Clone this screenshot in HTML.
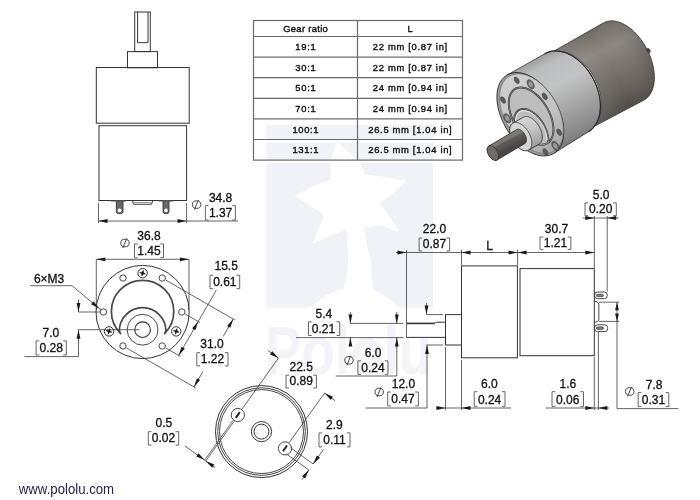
<!DOCTYPE html>
<html><head><meta charset="utf-8"><style>
html,body{margin:0;padding:0;background:#fff;}
body{width:700px;height:500px;overflow:hidden;}
svg{display:block;font-family:"Liberation Sans",sans-serif;will-change:transform;}
.tb{font-family:"Liberation Sans",sans-serif;}
</style></head><body>
<svg width="700" height="500" viewBox="0 0 700 500">
<defs><linearGradient id="gMot" gradientUnits="userSpaceOnUse" x1="584" y1="28" x2="624" y2="108">
<stop offset="0" stop-color="#635e59"/><stop offset="0.1" stop-color="#75706a"/><stop offset="0.32" stop-color="#8b8680"/>
<stop offset="0.55" stop-color="#7a746e"/><stop offset="0.85" stop-color="#625d58"/><stop offset="1" stop-color="#514d49"/></linearGradient>
<linearGradient id="gMotAx" gradientUnits="userSpaceOnUse" x1="575" y1="90" x2="650" y2="50">
<stop offset="0" stop-color="#fff" stop-opacity="0.10"/><stop offset="0.5" stop-color="#fff" stop-opacity="0"/><stop offset="1" stop-color="#000" stop-opacity="0.12"/></linearGradient>
<linearGradient id="gGear" gradientUnits="userSpaceOnUse" x1="532" y1="60" x2="575" y2="145">
<stop offset="0" stop-color="#9e9e9e"/><stop offset="0.12" stop-color="#bcbdbe"/><stop offset="0.35" stop-color="#c2c3c4"/>
<stop offset="0.6" stop-color="#a8a8a8"/><stop offset="0.85" stop-color="#8c8c8c"/><stop offset="1" stop-color="#747474"/></linearGradient>
<linearGradient id="gFace" gradientUnits="userSpaceOnUse" x1="505" y1="80" x2="555" y2="150">
<stop offset="0" stop-color="#cfcfcf"/><stop offset="0.6" stop-color="#c3c3c3"/><stop offset="1" stop-color="#a9a9a9"/></linearGradient>
<linearGradient id="gCol" gradientUnits="userSpaceOnUse" x1="520" y1="112" x2="532" y2="148">
<stop offset="0" stop-color="#dcdcdc"/><stop offset="0.5" stop-color="#c8c8c8"/><stop offset="1" stop-color="#9a9a9a"/></linearGradient>
<linearGradient id="gShaft" gradientUnits="userSpaceOnUse" x1="501" y1="136" x2="508.5" y2="150.5">
<stop offset="0" stop-color="#6a6662"/><stop offset="0.1" stop-color="#827d79"/><stop offset="0.4" stop-color="#78736f"/><stop offset="0.45" stop-color="#5f5b57"/><stop offset="1" stop-color="#484441"/></linearGradient></defs>
<rect width="700" height="500" fill="#fff"/>
<rect x="266.2" y="125" width="166.8" height="181" fill="#f1f2f7"/>
<rect x="266.2" y="306" width="166.8" height="2.5" fill="#f6f6fa"/>
<polygon points="337,143 359,162 365,175 405,181 391,194 379,203 398,231 381,224 363,227 366,245 370,260 371,279 372,290 382,295 393,302.5 398,308.5 311,308.5 315.5,304.5 325,297 335,292 344,289.5 347,278.5 349,260 348,240 347,228 314,242 325,214 296,196 315,186 332,180 331,162" fill="#fff" stroke="#fff" stroke-width="1.5" stroke-linejoin="round"/>
<text x="265" y="374" font-size="68" font-weight="bold" fill="#f3f3f8" textLength="167" lengthAdjust="spacingAndGlyphs">Pololu</text>
<rect x="253.5" y="139.5" width="209.0" height="3" fill="#fff"/>
<rect x="253.5" y="160" width="209.0" height="3" fill="#fff"/>
<rect x="253.5" y="20.5" width="209.0" height="139.6" fill="none" stroke="#6a6a6a" stroke-width="1.2"/>
<line x1="253.50" y1="36.50" x2="462.50" y2="36.50" stroke="#6a6a6a" stroke-width="1.2"/>
<line x1="253.50" y1="57.10" x2="462.50" y2="57.10" stroke="#6a6a6a" stroke-width="1.2"/>
<line x1="253.50" y1="77.70" x2="462.50" y2="77.70" stroke="#6a6a6a" stroke-width="1.2"/>
<line x1="253.50" y1="98.30" x2="462.50" y2="98.30" stroke="#6a6a6a" stroke-width="1.2"/>
<line x1="253.50" y1="118.90" x2="462.50" y2="118.90" stroke="#6a6a6a" stroke-width="1.2"/>
<line x1="253.50" y1="139.50" x2="462.50" y2="139.50" stroke="#6a6a6a" stroke-width="1.2"/>
<line x1="357.50" y1="20.50" x2="357.50" y2="160.10" stroke="#6a6a6a" stroke-width="1.2"/>
<text x="305.50" y="31.80" font-size="9.4" text-anchor="middle" fill="#111" stroke="#111" stroke-width="0.38" textLength="44.59" lengthAdjust="spacing">Gear ratio</text>
<text x="410.00" y="31.80" font-size="9.4" text-anchor="middle" fill="#111" stroke="#111" stroke-width="0.38" textLength="4.11" lengthAdjust="spacing">L</text>
<text x="305.50" y="50.10" font-size="9.4" text-anchor="middle" fill="#111" stroke="#111" stroke-width="0.38" textLength="20.36" lengthAdjust="spacing">19:1</text>
<text x="410.00" y="50.10" font-size="9.4" text-anchor="middle" fill="#111" stroke="#111" stroke-width="0.38" textLength="74.35" lengthAdjust="spacing">22 mm [0.87 in]</text>
<text x="305.50" y="70.70" font-size="9.4" text-anchor="middle" fill="#111" stroke="#111" stroke-width="0.38" textLength="20.36" lengthAdjust="spacing">30:1</text>
<text x="410.00" y="70.70" font-size="9.4" text-anchor="middle" fill="#111" stroke="#111" stroke-width="0.38" textLength="74.35" lengthAdjust="spacing">22 mm [0.87 in]</text>
<text x="305.50" y="91.30" font-size="9.4" text-anchor="middle" fill="#111" stroke="#111" stroke-width="0.38" textLength="20.36" lengthAdjust="spacing">50:1</text>
<text x="410.00" y="91.30" font-size="9.4" text-anchor="middle" fill="#111" stroke="#111" stroke-width="0.38" textLength="74.35" lengthAdjust="spacing">24 mm [0.94 in]</text>
<text x="305.50" y="111.90" font-size="9.4" text-anchor="middle" fill="#111" stroke="#111" stroke-width="0.38" textLength="20.36" lengthAdjust="spacing">70:1</text>
<text x="410.00" y="111.90" font-size="9.4" text-anchor="middle" fill="#111" stroke="#111" stroke-width="0.38" textLength="74.35" lengthAdjust="spacing">24 mm [0.94 in]</text>
<text x="305.50" y="132.50" font-size="9.4" text-anchor="middle" fill="#111" stroke="#111" stroke-width="0.38" textLength="26.08" lengthAdjust="spacing">100:1</text>
<text x="410.00" y="132.50" font-size="9.4" text-anchor="middle" fill="#111" stroke="#111" stroke-width="0.38" textLength="83.35" lengthAdjust="spacing">26.5 mm [1.04 in]</text>
<text x="305.50" y="153.10" font-size="9.4" text-anchor="middle" fill="#111" stroke="#111" stroke-width="0.38" textLength="26.08" lengthAdjust="spacing">131:1</text>
<text x="410.00" y="153.10" font-size="9.4" text-anchor="middle" fill="#111" stroke="#111" stroke-width="0.38" textLength="83.35" lengthAdjust="spacing">26.5 mm [1.04 in]</text>
<rect x="134.70" y="12.00" width="15.60" height="39.60" fill="none" stroke="#333" stroke-width="1.0"/>
<polyline points="137.60,12.00 137.60,42.70 148.00,42.70 148.00,12.00" fill="none" stroke="#333" stroke-width="1.0" stroke-linejoin="miter"/>
<rect x="127.50" y="51.60" width="30.00" height="16.20" fill="none" stroke="#333" stroke-width="1.0"/>
<rect x="96.30" y="67.50" width="92.90" height="55.70" fill="none" stroke="#333" stroke-width="1.0"/>
<rect x="99.00" y="125.70" width="87.60" height="74.80" fill="none" stroke="#333" stroke-width="1.0"/>
<path d="M116.3,200.5 L116.3,211.5 Q116.3,213.6 118.5,213.6 L120.8,213.6 Q123,213.6 123,211.5 L123,200.5" fill="#6a6a6a" stroke="#333" stroke-width="0.9"/>
<path d="M163,200.5 L163,211.5 Q163,213.6 165,213.6 L167,213.6 Q169,213.6 169,211.5 L169,200.5" fill="#6a6a6a" stroke="#333" stroke-width="0.9"/>
<circle cx="119.60" cy="210.40" r="1.90" fill="#fff" stroke="#333" stroke-width="0"/>
<circle cx="166.00" cy="210.40" r="1.80" fill="#fff" stroke="#333" stroke-width="0"/>
<line x1="111.00" y1="201.00" x2="126.00" y2="201.00" stroke="#555" stroke-width="1.0"/>
<line x1="158.50" y1="201.00" x2="173.50" y2="201.00" stroke="#555" stroke-width="1.0"/>
<polyline points="132.30,200.50 133.50,204.30 151.60,204.30 152.80,200.50" fill="none" stroke="#333" stroke-width="0.9" stroke-linejoin="miter"/>
<line x1="133.20" y1="202.60" x2="151.90" y2="202.60" stroke="#666" stroke-width="0.7"/>
<line x1="98.50" y1="203.00" x2="98.50" y2="223.00" stroke="#3c3c3c" stroke-width="0.8"/>
<line x1="186.60" y1="203.00" x2="186.60" y2="223.00" stroke="#3c3c3c" stroke-width="0.8"/>
<line x1="98.50" y1="221.00" x2="238.00" y2="221.00" stroke="#3c3c3c" stroke-width="0.8"/>
<polygon points="98.50,221.00 107.50,219.10 107.50,222.90" fill="#1a1a1a" stroke="none"/>
<polygon points="186.60,221.00 177.60,222.90 177.60,219.10" fill="#1a1a1a" stroke="none"/>
<text x="220.60" y="201.80" font-size="12" text-anchor="middle" fill="#111" stroke="#111" stroke-width="0.3" >34.8</text>
<polyline points="208.60,205.70 205.40,205.70 205.40,220.00 208.60,220.00" fill="none" stroke="#555" stroke-width="0.9" stroke-linejoin="miter"/>
<polyline points="232.20,205.70 235.40,205.70 235.40,220.00 232.20,220.00" fill="none" stroke="#555" stroke-width="0.9" stroke-linejoin="miter"/>
<text x="220.60" y="216.60" font-size="12" text-anchor="middle" fill="#111" stroke="#111" stroke-width="0.3" >1.37</text>
<ellipse cx="196.60" cy="204.60" rx="4.2" ry="3.8" fill="none" stroke="#333" stroke-width="0.9"/>
<line x1="194.40" y1="209.60" x2="198.40" y2="200.00" stroke="#333" stroke-width="0.9"/>
<circle cx="142.60" cy="312.00" r="46.60" fill="none" stroke="#333" stroke-width="1.0"/>
<circle cx="181.80" cy="312.00" r="3.20" fill="none" stroke="#333" stroke-width="0.9"/>
<circle cx="162.20" cy="278.05" r="3.20" fill="none" stroke="#333" stroke-width="0.9"/>
<circle cx="123.00" cy="278.05" r="3.20" fill="none" stroke="#333" stroke-width="0.9"/>
<circle cx="103.40" cy="312.00" r="3.20" fill="none" stroke="#333" stroke-width="0.9"/>
<circle cx="123.00" cy="345.95" r="3.20" fill="none" stroke="#333" stroke-width="0.9"/>
<circle cx="162.20" cy="345.95" r="3.20" fill="none" stroke="#333" stroke-width="0.9"/>
<circle cx="142.60" cy="273.20" r="4.70" fill="none" stroke="#333" stroke-width="1.0"/>
<polygon points="145.50,273.98 143.15,274.15 141.82,276.10 141.65,273.75 139.70,272.42 142.05,272.25 143.38,270.30 143.55,272.65" fill="#111" stroke="#111" stroke-width="0.5" stroke-linejoin="round"/>
<circle cx="109.00" cy="331.40" r="4.70" fill="none" stroke="#333" stroke-width="1.0"/>
<polygon points="111.90,332.18 109.55,332.35 108.22,334.30 108.05,331.95 106.10,330.62 108.45,330.45 109.77,328.50 109.95,330.85" fill="#111" stroke="#111" stroke-width="0.5" stroke-linejoin="round"/>
<circle cx="176.20" cy="331.40" r="4.70" fill="none" stroke="#333" stroke-width="1.0"/>
<polygon points="179.10,332.18 176.75,332.35 175.43,334.30 175.25,331.95 173.30,330.62 175.65,330.45 176.98,328.50 177.15,330.85" fill="#111" stroke="#111" stroke-width="0.5" stroke-linejoin="round"/>
<path d="M120.6,333.6 A31.2 31.2 0 1 1 164.6,333.6 L165.9,331 A23.3 23.3 0 0 0 119.3,331 Z" fill="none" stroke="#4a4a4a" stroke-width="1.7" stroke-linejoin="round"/>
<circle cx="142.60" cy="329.70" r="15.40" fill="none" stroke="#333" stroke-width="0.9"/>
<circle cx="142.60" cy="329.70" r="7.80" fill="none" stroke="#333" stroke-width="1.1"/>
<line x1="96.30" y1="259.30" x2="96.30" y2="310.00" stroke="#3c3c3c" stroke-width="0.8"/>
<line x1="189.00" y1="259.30" x2="189.00" y2="310.00" stroke="#3c3c3c" stroke-width="0.8"/>
<line x1="96.30" y1="259.30" x2="189.00" y2="259.30" stroke="#3c3c3c" stroke-width="0.8"/>
<polygon points="96.30,259.30 105.30,257.40 105.30,261.20" fill="#1a1a1a" stroke="none"/>
<polygon points="189.00,259.30 180.00,261.20 180.00,257.40" fill="#1a1a1a" stroke="none"/>
<text x="149.00" y="239.70" font-size="12" text-anchor="middle" fill="#111" stroke="#111" stroke-width="0.3" >36.8</text>
<polyline points="137.70,243.90 134.50,243.90 134.50,257.70 137.70,257.70" fill="none" stroke="#555" stroke-width="0.9" stroke-linejoin="miter"/>
<polyline points="160.30,243.90 163.50,243.90 163.50,257.70 160.30,257.70" fill="none" stroke="#555" stroke-width="0.9" stroke-linejoin="miter"/>
<text x="149.00" y="254.90" font-size="12" text-anchor="middle" fill="#111" stroke="#111" stroke-width="0.3" >1.45</text>
<ellipse cx="125.00" cy="243.00" rx="4.2" ry="3.8" fill="none" stroke="#333" stroke-width="0.9"/>
<line x1="122.80" y1="248.00" x2="126.80" y2="238.40" stroke="#333" stroke-width="0.9"/>
<text x="33.90" y="282.90" font-size="12" text-anchor="start" fill="#111" stroke="#111" stroke-width="0.3" >6×M3</text>
<polyline points="30.30,285.70 72.10,285.70 101.00,310.00" fill="none" stroke="#3c3c3c" stroke-width="0.8" stroke-linejoin="miter"/>
<polygon points="99.20,308.60 91.09,304.27 93.53,301.36" fill="#1a1a1a" stroke="none"/>
<line x1="78.50" y1="312.00" x2="100.00" y2="312.00" stroke="#3c3c3c" stroke-width="0.8"/>
<line x1="78.50" y1="299.50" x2="78.50" y2="312.00" stroke="#3c3c3c" stroke-width="0.8"/>
<polygon points="78.50,312.00 76.60,303.00 80.40,303.00" fill="#1a1a1a" stroke="none"/>
<polyline points="24.50,356.60 78.50,356.60 78.50,329.70 139.50,329.70" fill="none" stroke="#3c3c3c" stroke-width="0.8" stroke-linejoin="miter"/>
<polygon points="78.50,329.70 80.40,338.70 76.60,338.70" fill="#1a1a1a" stroke="none"/>
<text x="50.85" y="336.90" font-size="12" text-anchor="middle" fill="#111" stroke="#111" stroke-width="0.3" >7.0</text>
<polyline points="39.30,340.90 36.10,340.90 36.10,355.00 39.30,355.00" fill="none" stroke="#555" stroke-width="0.9" stroke-linejoin="miter"/>
<polyline points="63.10,340.90 66.30,340.90 66.30,355.00 63.10,355.00" fill="none" stroke="#555" stroke-width="0.9" stroke-linejoin="miter"/>
<text x="51.20" y="352.30" font-size="12" text-anchor="middle" fill="#111" stroke="#111" stroke-width="0.3" >0.28</text>
<line x1="165.66" y1="280.05" x2="234.94" y2="320.05" stroke="#3c3c3c" stroke-width="0.8"/>
<line x1="126.46" y1="347.95" x2="195.74" y2="387.95" stroke="#3c3c3c" stroke-width="0.8"/>
<line x1="185.26" y1="314.00" x2="199.99" y2="322.50" stroke="#3c3c3c" stroke-width="0.8"/>
<line x1="165.66" y1="347.95" x2="180.39" y2="356.45" stroke="#3c3c3c" stroke-width="0.8"/>
<line x1="233.21" y1="319.05" x2="223.21" y2="336.37" stroke="#3c3c3c" stroke-width="0.8"/>
<polygon points="233.21,319.05 230.36,327.80 227.07,325.90" fill="#1a1a1a" stroke="none"/>
<line x1="194.01" y1="386.95" x2="203.01" y2="371.36" stroke="#3c3c3c" stroke-width="0.8"/>
<polygon points="194.01,386.95 196.87,378.20 200.16,380.10" fill="#1a1a1a" stroke="none"/>
<text x="212.00" y="348.10" font-size="12" text-anchor="middle" fill="#111" stroke="#111" stroke-width="0.3" >31.0</text>
<polyline points="200.00,352.70 196.80,352.70 196.80,365.90 200.00,365.90" fill="none" stroke="#555" stroke-width="0.9" stroke-linejoin="miter"/>
<polyline points="224.80,352.70 228.00,352.70 228.00,365.90 224.80,365.90" fill="none" stroke="#555" stroke-width="0.9" stroke-linejoin="miter"/>
<text x="212.40" y="363.20" font-size="12" text-anchor="middle" fill="#111" stroke="#111" stroke-width="0.3" >1.22</text>
<line x1="216.25" y1="290.32" x2="178.65" y2="355.45" stroke="#3c3c3c" stroke-width="0.8"/>
<polygon points="198.25,321.50 195.40,330.24 192.11,328.34" fill="#1a1a1a" stroke="none"/>
<polygon points="178.65,355.45 181.51,346.70 184.80,348.60" fill="#1a1a1a" stroke="none"/>
<text x="226.20" y="270.30" font-size="12" text-anchor="middle" fill="#111" stroke="#111" stroke-width="0.3" >15.5</text>
<polyline points="213.20,275.20 210.00,275.20 210.00,288.70 213.20,288.70" fill="none" stroke="#555" stroke-width="0.9" stroke-linejoin="miter"/>
<polyline points="236.50,275.20 239.70,275.20 239.70,288.70 236.50,288.70" fill="none" stroke="#555" stroke-width="0.9" stroke-linejoin="miter"/>
<text x="224.85" y="286.00" font-size="12" text-anchor="middle" fill="#111" stroke="#111" stroke-width="0.3" >0.61</text>
<circle cx="261.50" cy="431.60" r="46.00" fill="none" stroke="#333" stroke-width="1.0"/>
<circle cx="261.50" cy="431.60" r="43.80" fill="none" stroke="#333" stroke-width="0.9"/>
<circle cx="261.50" cy="431.60" r="42.00" fill="none" stroke="#333" stroke-width="0.9"/>
<circle cx="261.50" cy="431.60" r="10.10" fill="none" stroke="#333" stroke-width="1.0"/>
<circle cx="261.50" cy="431.60" r="7.50" fill="none" stroke="#333" stroke-width="1.0"/>
<circle cx="237.80" cy="415.00" r="6.60" fill="none" stroke="#333" stroke-width="0.9"/>
<line x1="235.80" y1="417.90" x2="239.80" y2="412.10" stroke="#222" stroke-width="2.0"/>
<circle cx="285.00" cy="448.40" r="6.60" fill="none" stroke="#333" stroke-width="0.9"/>
<line x1="283.00" y1="451.30" x2="287.00" y2="445.50" stroke="#222" stroke-width="2.0"/>
<line x1="241.87" y1="409.31" x2="278.47" y2="358.09" stroke="#3c3c3c" stroke-width="0.8"/>
<line x1="289.07" y1="442.71" x2="324.51" y2="393.12" stroke="#3c3c3c" stroke-width="0.8"/>
<line x1="278.47" y1="358.09" x2="267.90" y2="350.54" stroke="#3c3c3c" stroke-width="0.8"/>
<polygon points="278.47,358.09 270.04,354.40 272.25,351.31" fill="#1a1a1a" stroke="none"/>
<line x1="324.51" y1="393.12" x2="335.08" y2="400.67" stroke="#3c3c3c" stroke-width="0.8"/>
<polygon points="324.51,393.12 332.94,396.80 330.73,399.89" fill="#1a1a1a" stroke="none"/>
<text x="301.20" y="370.90" font-size="12" text-anchor="middle" fill="#111" stroke="#111" stroke-width="0.3" >22.5</text>
<polyline points="289.20,375.20 286.00,375.20 286.00,388.00 289.20,388.00" fill="none" stroke="#555" stroke-width="0.9" stroke-linejoin="miter"/>
<polyline points="313.20,375.20 316.40,375.20 316.40,388.00 313.20,388.00" fill="none" stroke="#555" stroke-width="0.9" stroke-linejoin="miter"/>
<text x="301.20" y="385.30" font-size="12" text-anchor="middle" fill="#111" stroke="#111" stroke-width="0.3" >0.89</text>
<line x1="233.16" y1="420.28" x2="204.69" y2="460.12" stroke="#444" stroke-width="0.8"/>
<line x1="234.30" y1="421.10" x2="205.83" y2="460.93" stroke="#444" stroke-width="0.8"/>
<line x1="184.94" y1="446.00" x2="215.02" y2="467.50" stroke="#3c3c3c" stroke-width="0.8"/>
<polygon points="204.69,460.12 196.27,456.43 198.48,453.34" fill="#1a1a1a" stroke="none"/>
<polygon points="205.83,460.93 214.26,464.62 212.05,467.71" fill="#1a1a1a" stroke="none"/>
<text x="163.90" y="426.90" font-size="12" text-anchor="middle" fill="#111" stroke="#111" stroke-width="0.3" >0.5</text>
<polyline points="151.50,431.70 148.30,431.70 148.30,445.10 151.50,445.10" fill="none" stroke="#555" stroke-width="0.9" stroke-linejoin="miter"/>
<polyline points="175.50,431.70 178.70,431.70 178.70,445.10 175.50,445.10" fill="none" stroke="#555" stroke-width="0.9" stroke-linejoin="miter"/>
<text x="163.50" y="442.40" font-size="12" text-anchor="middle" fill="#111" stroke="#111" stroke-width="0.3" >0.02</text>
<line x1="290.40" y1="447.72" x2="313.17" y2="463.98" stroke="#3c3c3c" stroke-width="0.8"/>
<line x1="286.10" y1="453.73" x2="308.87" y2="470.00" stroke="#3c3c3c" stroke-width="0.8"/>
<line x1="313.17" y1="463.98" x2="323.62" y2="449.35" stroke="#3c3c3c" stroke-width="0.8"/>
<polygon points="313.17,463.98 316.85,455.56 319.94,457.77" fill="#1a1a1a" stroke="none"/>
<line x1="308.87" y1="470.00" x2="301.89" y2="479.76" stroke="#3c3c3c" stroke-width="0.8"/>
<polygon points="308.87,470.00 305.18,478.43 302.09,476.22" fill="#1a1a1a" stroke="none"/>
<text x="334.40" y="429.20" font-size="12" text-anchor="middle" fill="#111" stroke="#111" stroke-width="0.3" >2.9</text>
<polyline points="322.20,432.90 319.00,432.90 319.00,446.90 322.20,446.90" fill="none" stroke="#555" stroke-width="0.9" stroke-linejoin="miter"/>
<polyline points="346.80,432.90 350.00,432.90 350.00,446.90 346.80,446.90" fill="none" stroke="#555" stroke-width="0.9" stroke-linejoin="miter"/>
<text x="334.50" y="444.20" font-size="12" text-anchor="middle" fill="#111" stroke="#111" stroke-width="0.3" >0.11</text>
<rect x="461.50" y="265.90" width="55.90" height="91.90" fill="none" stroke="#333" stroke-width="1.0"/>
<rect x="520.00" y="268.60" width="74.30" height="87.10" fill="none" stroke="#333" stroke-width="1.0"/>
<rect x="445.50" y="314.60" width="16.00" height="30.40" fill="none" stroke="#333" stroke-width="1.0"/>
<polyline points="406.50,337.40 445.50,337.40" fill="none" stroke="#333" stroke-width="1.0" stroke-linejoin="miter"/>
<line x1="406.50" y1="323.40" x2="435.00" y2="323.40" stroke="#333" stroke-width="1.6"/>
<polyline points="435.00,323.40 436.00,322.20 445.50,322.20" fill="none" stroke="#333" stroke-width="1.0" stroke-linejoin="miter"/>
<rect x="594.6" y="292" width="12.6" height="6.6" rx="2.8" fill="none" stroke="#333" stroke-width="0.9"/>
<rect x="596.4" y="294.3" width="7" height="2.3" rx="1.1" fill="#888" stroke="#333" stroke-width="0.8"/>
<rect x="594.6" y="324.8" width="13" height="6.8" rx="2.8" fill="none" stroke="#333" stroke-width="0.9"/>
<rect x="596.4" y="327" width="7" height="2.3" rx="1.1" fill="#888" stroke="#333" stroke-width="0.8"/>
<polyline points="594.30,301.00 597.50,302.20 598.80,304.00 598.80,320.00 597.50,321.50 594.30,322.50" fill="none" stroke="#333" stroke-width="0.9" stroke-linejoin="miter"/>
<line x1="406.50" y1="250.00" x2="406.50" y2="337.60" stroke="#3c3c3c" stroke-width="0.8"/>
<line x1="461.50" y1="250.00" x2="461.50" y2="265.00" stroke="#3c3c3c" stroke-width="0.8"/>
<line x1="517.60" y1="250.00" x2="517.60" y2="265.00" stroke="#3c3c3c" stroke-width="0.8"/>
<line x1="594.30" y1="216.00" x2="594.30" y2="268.00" stroke="#3c3c3c" stroke-width="0.8"/>
<line x1="607.20" y1="216.00" x2="607.20" y2="291.40" stroke="#3c3c3c" stroke-width="0.8"/>
<line x1="396.00" y1="252.50" x2="594.30" y2="252.50" stroke="#3c3c3c" stroke-width="0.8"/>
<polygon points="406.50,252.50 397.50,254.40 397.50,250.60" fill="#1a1a1a" stroke="none"/>
<polygon points="461.50,252.50 470.50,250.60 470.50,254.40" fill="#1a1a1a" stroke="none"/>
<polygon points="517.60,252.50 508.60,254.40 508.60,250.60" fill="#1a1a1a" stroke="none"/>
<polygon points="517.60,252.50 526.60,250.60 526.60,254.40" fill="#1a1a1a" stroke="none"/>
<polygon points="594.30,252.50 585.30,254.40 585.30,250.60" fill="#1a1a1a" stroke="none"/>
<text x="434.50" y="232.70" font-size="12" text-anchor="middle" fill="#111" stroke="#111" stroke-width="0.3" >22.0</text>
<polyline points="422.30,238.00 419.10,238.00 419.10,250.90 422.30,250.90" fill="none" stroke="#555" stroke-width="0.9" stroke-linejoin="miter"/>
<polyline points="446.40,238.00 449.60,238.00 449.60,250.90 446.40,250.90" fill="none" stroke="#555" stroke-width="0.9" stroke-linejoin="miter"/>
<text x="434.40" y="248.20" font-size="12" text-anchor="middle" fill="#111" stroke="#111" stroke-width="0.3" >0.87</text>
<text x="489.50" y="249.50" font-size="12" text-anchor="middle" fill="#111" stroke="#111" stroke-width="0.3" >L</text>
<text x="556.50" y="233.40" font-size="12" text-anchor="middle" fill="#111" stroke="#111" stroke-width="0.3" >30.7</text>
<polyline points="543.20,237.00 540.00,237.00 540.00,249.40 543.20,249.40" fill="none" stroke="#555" stroke-width="0.9" stroke-linejoin="miter"/>
<polyline points="567.70,237.00 570.90,237.00 570.90,249.40 567.70,249.40" fill="none" stroke="#555" stroke-width="0.9" stroke-linejoin="miter"/>
<text x="555.50" y="246.70" font-size="12" text-anchor="middle" fill="#111" stroke="#111" stroke-width="0.3" >1.21</text>
<line x1="582.90" y1="218.00" x2="618.60" y2="218.00" stroke="#3c3c3c" stroke-width="0.8"/>
<polygon points="594.30,218.00 585.30,219.90 585.30,216.10" fill="#1a1a1a" stroke="none"/>
<polygon points="607.20,218.00 616.20,216.10 616.20,219.90" fill="#1a1a1a" stroke="none"/>
<text x="601.20" y="199.10" font-size="12" text-anchor="middle" fill="#111" stroke="#111" stroke-width="0.3" >5.0</text>
<polyline points="588.20,202.90 585.00,202.90 585.00,215.70 588.20,215.70" fill="none" stroke="#555" stroke-width="0.9" stroke-linejoin="miter"/>
<polyline points="613.10,202.90 616.30,202.90 616.30,215.70 613.10,215.70" fill="none" stroke="#555" stroke-width="0.9" stroke-linejoin="miter"/>
<text x="600.70" y="213.00" font-size="12" text-anchor="middle" fill="#111" stroke="#111" stroke-width="0.3" >0.20</text>
<line x1="350.40" y1="323.40" x2="403.00" y2="323.40" stroke="#3c3c3c" stroke-width="0.8"/>
<line x1="296.00" y1="337.60" x2="403.50" y2="337.60" stroke="#3c3c3c" stroke-width="0.8"/>
<line x1="350.40" y1="312.00" x2="350.40" y2="323.40" stroke="#3c3c3c" stroke-width="0.8"/>
<polygon points="350.40,323.40 348.50,314.40 352.30,314.40" fill="#1a1a1a" stroke="none"/>
<line x1="350.40" y1="337.60" x2="350.40" y2="346.00" stroke="#3c3c3c" stroke-width="0.8"/>
<polygon points="350.40,337.60 352.30,346.60 348.50,346.60" fill="#1a1a1a" stroke="none"/>
<line x1="396.80" y1="312.00" x2="396.80" y2="323.40" stroke="#3c3c3c" stroke-width="0.8"/>
<polygon points="396.80,323.40 394.90,314.40 398.70,314.40" fill="#1a1a1a" stroke="none"/>
<polyline points="335.70,376.00 396.80,376.00 396.80,337.60" fill="none" stroke="#3c3c3c" stroke-width="0.8" stroke-linejoin="miter"/>
<polygon points="396.80,337.60 398.70,346.60 394.90,346.60" fill="#1a1a1a" stroke="none"/>
<text x="323.90" y="318.10" font-size="12" text-anchor="middle" fill="#111" stroke="#111" stroke-width="0.3" >5.4</text>
<polyline points="311.70,321.80 308.50,321.80 308.50,335.50 311.70,335.50" fill="none" stroke="#555" stroke-width="0.9" stroke-linejoin="miter"/>
<polyline points="336.50,321.80 339.70,321.80 339.70,335.50 336.50,335.50" fill="none" stroke="#555" stroke-width="0.9" stroke-linejoin="miter"/>
<text x="323.40" y="332.70" font-size="12" text-anchor="middle" fill="#111" stroke="#111" stroke-width="0.3" >0.21</text>
<text x="373.00" y="357.00" font-size="12" text-anchor="middle" fill="#111" stroke="#111" stroke-width="0.3" >6.0</text>
<polyline points="361.10,360.80 357.90,360.80 357.90,374.40 361.10,374.40" fill="none" stroke="#555" stroke-width="0.9" stroke-linejoin="miter"/>
<polyline points="384.80,360.80 388.00,360.80 388.00,374.40 384.80,374.40" fill="none" stroke="#555" stroke-width="0.9" stroke-linejoin="miter"/>
<text x="373.00" y="371.70" font-size="12" text-anchor="middle" fill="#111" stroke="#111" stroke-width="0.3" >0.24</text>
<ellipse cx="349.00" cy="360.30" rx="4.2" ry="3.8" fill="none" stroke="#333" stroke-width="0.9"/>
<line x1="346.80" y1="365.30" x2="350.80" y2="355.70" stroke="#333" stroke-width="0.9"/>
<line x1="426.50" y1="303.00" x2="426.50" y2="314.60" stroke="#3c3c3c" stroke-width="0.8"/>
<polygon points="426.50,314.60 424.60,305.60 428.40,305.60" fill="#1a1a1a" stroke="none"/>
<line x1="426.50" y1="314.60" x2="443.00" y2="314.60" stroke="#3c3c3c" stroke-width="0.8"/>
<line x1="426.50" y1="345.00" x2="443.00" y2="345.00" stroke="#3c3c3c" stroke-width="0.8"/>
<polyline points="365.60,408.00 427.00,408.00 427.00,345.00" fill="none" stroke="#3c3c3c" stroke-width="0.8" stroke-linejoin="miter"/>
<polygon points="427.00,345.00 428.90,354.00 425.10,354.00" fill="#1a1a1a" stroke="none"/>
<text x="403.40" y="388.20" font-size="12" text-anchor="middle" fill="#111" stroke="#111" stroke-width="0.3" >12.0</text>
<polyline points="390.90,392.00 387.70,392.00 387.70,405.90 390.90,405.90" fill="none" stroke="#555" stroke-width="0.9" stroke-linejoin="miter"/>
<polyline points="415.20,392.00 418.40,392.00 418.40,405.90 415.20,405.90" fill="none" stroke="#555" stroke-width="0.9" stroke-linejoin="miter"/>
<text x="403.00" y="403.20" font-size="12" text-anchor="middle" fill="#111" stroke="#111" stroke-width="0.3" >0.47</text>
<ellipse cx="379.20" cy="392.00" rx="4.2" ry="3.8" fill="none" stroke="#333" stroke-width="0.9"/>
<line x1="377.00" y1="397.00" x2="381.00" y2="387.40" stroke="#333" stroke-width="0.9"/>
<line x1="445.50" y1="347.00" x2="445.50" y2="410.00" stroke="#3c3c3c" stroke-width="0.8"/>
<line x1="461.50" y1="360.00" x2="461.50" y2="410.00" stroke="#3c3c3c" stroke-width="0.8"/>
<line x1="436.00" y1="408.00" x2="511.00" y2="408.00" stroke="#3c3c3c" stroke-width="0.8"/>
<polygon points="445.50,408.00 436.50,409.90 436.50,406.10" fill="#1a1a1a" stroke="none"/>
<polygon points="461.50,408.00 470.50,406.10 470.50,409.90" fill="#1a1a1a" stroke="none"/>
<text x="489.30" y="388.30" font-size="12" text-anchor="middle" fill="#111" stroke="#111" stroke-width="0.3" >6.0</text>
<polyline points="477.40,391.70 474.20,391.70 474.20,406.40 477.40,406.40" fill="none" stroke="#555" stroke-width="0.9" stroke-linejoin="miter"/>
<polyline points="501.80,391.70 505.00,391.70 505.00,406.40 501.80,406.40" fill="none" stroke="#555" stroke-width="0.9" stroke-linejoin="miter"/>
<text x="489.60" y="403.70" font-size="12" text-anchor="middle" fill="#111" stroke="#111" stroke-width="0.3" >0.24</text>
<line x1="594.30" y1="357.00" x2="594.30" y2="410.00" stroke="#3c3c3c" stroke-width="0.8"/>
<line x1="598.40" y1="332.00" x2="598.40" y2="410.00" stroke="#3c3c3c" stroke-width="0.8"/>
<line x1="545.70" y1="408.00" x2="609.00" y2="408.00" stroke="#3c3c3c" stroke-width="0.8"/>
<polygon points="594.30,408.00 585.30,409.90 585.30,406.10" fill="#1a1a1a" stroke="none"/>
<polygon points="598.40,408.00 607.40,406.10 607.40,409.90" fill="#1a1a1a" stroke="none"/>
<text x="567.80" y="388.30" font-size="12" text-anchor="middle" fill="#111" stroke="#111" stroke-width="0.3" >1.6</text>
<polyline points="555.20,391.70 552.00,391.70 552.00,406.40 555.20,406.40" fill="none" stroke="#555" stroke-width="0.9" stroke-linejoin="miter"/>
<polyline points="580.30,391.70 583.50,391.70 583.50,406.40 580.30,406.40" fill="none" stroke="#555" stroke-width="0.9" stroke-linejoin="miter"/>
<text x="567.80" y="403.70" font-size="12" text-anchor="middle" fill="#111" stroke="#111" stroke-width="0.3" >0.06</text>
<line x1="599.00" y1="302.20" x2="619.00" y2="302.20" stroke="#3c3c3c" stroke-width="0.8"/>
<line x1="599.00" y1="321.40" x2="619.00" y2="321.40" stroke="#3c3c3c" stroke-width="0.8"/>
<line x1="617.00" y1="302.20" x2="617.00" y2="408.60" stroke="#3c3c3c" stroke-width="0.8"/>
<line x1="617.00" y1="408.60" x2="678.40" y2="408.60" stroke="#3c3c3c" stroke-width="0.8"/>
<polygon points="617.00,302.20 618.90,310.20 615.10,310.20" fill="#1a1a1a" stroke="none"/>
<polygon points="617.00,321.40 615.10,313.40 618.90,313.40" fill="#1a1a1a" stroke="none"/>
<text x="654.10" y="388.70" font-size="12" text-anchor="middle" fill="#111" stroke="#111" stroke-width="0.3" >7.8</text>
<polyline points="641.40,392.60 638.20,392.60 638.20,406.60 641.40,406.60" fill="none" stroke="#555" stroke-width="0.9" stroke-linejoin="miter"/>
<polyline points="665.60,392.60 668.80,392.60 668.80,406.60 665.60,406.60" fill="none" stroke="#555" stroke-width="0.9" stroke-linejoin="miter"/>
<text x="653.50" y="403.90" font-size="12" text-anchor="middle" fill="#111" stroke="#111" stroke-width="0.3" >0.31</text>
<ellipse cx="629.70" cy="391.50" rx="4.2" ry="3.8" fill="none" stroke="#333" stroke-width="0.9"/>
<line x1="627.50" y1="396.50" x2="631.50" y2="386.90" stroke="#333" stroke-width="0.9"/>
<path d="M603.48,22.88 L604.41,22.41 L605.38,21.99 L606.37,21.65 L607.39,21.36 L608.43,21.14 L609.50,20.98 L610.60,20.89 L611.71,20.86 L612.84,20.89 L613.99,20.99 L615.15,21.16 L616.33,21.38 L617.52,21.67 L618.72,22.03 L619.93,22.44 L621.14,22.92 L622.36,23.46 L623.58,24.06 L624.80,24.71 L626.02,25.43 L627.23,26.20 L628.44,27.03 L629.64,27.91 L630.83,28.85 L632.01,29.84 L633.18,30.88 L634.33,31.96 L635.47,33.10 L636.58,34.27 L637.68,35.50 L638.76,36.76 L639.81,38.06 L640.83,39.40 L641.83,40.77 L642.80,42.18 L643.74,43.61 L644.65,45.08 L645.52,46.57 L646.36,48.08 L647.16,49.62 L647.93,51.17 L648.66,52.75 L649.35,54.33 L650.00,55.93 L650.60,57.53 L651.17,59.14 L651.69,60.76 L652.17,62.37 L652.60,63.99 L652.98,65.60 L653.32,67.20 L653.62,68.80 L653.86,70.38 L654.06,71.95 L654.21,73.50 L654.31,75.04 L654.37,76.55 L654.37,78.04 L654.33,79.50 L654.23,80.94 L654.09,82.34 L653.91,83.71 L653.67,85.05 L653.39,86.35 L653.06,87.60 L652.68,88.82 L652.26,90.00 L651.79,91.13 L651.28,92.21 L650.72,93.24 L650.12,94.23 L649.48,95.16 L648.80,96.04 L648.08,96.86 L647.32,97.63 L646.52,98.34 L645.69,99.00 L644.82,99.59 L643.92,100.12 L589.22,128.99 L590.21,128.41 L591.16,127.77 L592.08,127.08 L592.97,126.33 L593.81,125.52 L594.62,124.66 L595.38,123.74 L596.11,122.78 L596.79,121.77 L597.42,120.70 L598.01,119.60 L598.56,118.44 L599.06,117.25 L599.51,116.01 L599.92,114.74 L600.27,113.43 L600.57,112.08 L600.83,110.70 L601.03,109.29 L601.19,107.86 L601.29,106.39 L601.34,104.91 L601.35,103.40 L601.30,101.87 L601.19,100.33 L601.04,98.77 L600.84,97.21 L600.59,95.63 L600.28,94.04 L599.93,92.46 L599.53,90.87 L599.08,89.28 L598.58,87.69 L598.04,86.12 L597.45,84.55 L596.81,82.99 L596.14,81.44 L595.41,79.91 L594.65,78.40 L593.85,76.91 L593.00,75.44 L592.12,74.00 L591.20,72.58 L590.25,71.20 L589.26,69.84 L588.24,68.53 L587.20,67.24 L586.12,66.00 L585.01,64.80 L583.88,63.64 L582.73,62.52 L581.55,61.45 L580.36,60.42 L579.14,59.45 L577.92,58.52 L576.67,57.65 L575.42,56.83 L574.15,56.07 L572.88,55.36 L571.60,54.71 L570.31,54.12 L569.03,53.59 L567.74,53.11 L566.46,52.70 L565.18,52.35 L563.90,52.06 L562.64,51.83 L561.38,51.67 L560.14,51.57 L558.91,51.53 L557.69,51.56 L556.50,51.64 L555.32,51.80 L554.17,52.01 L553.03,52.29 L551.93,52.62 L550.85,53.02 L549.80,53.49 L548.78,54.01 Z" fill="url(#gMot)" stroke="#2e2c2a" stroke-width="0.8"/>
<path d="M603.48,22.88 L604.41,22.41 L605.38,21.99 L606.37,21.65 L607.39,21.36 L608.43,21.14 L609.50,20.98 L610.60,20.89 L611.71,20.86 L612.84,20.89 L613.99,20.99 L615.15,21.16 L616.33,21.38 L617.52,21.67 L618.72,22.03 L619.93,22.44 L621.14,22.92 L622.36,23.46 L623.58,24.06 L624.80,24.71 L626.02,25.43 L627.23,26.20 L628.44,27.03 L629.64,27.91 L630.83,28.85 L632.01,29.84 L633.18,30.88 L634.33,31.96 L635.47,33.10 L636.58,34.27 L637.68,35.50 L638.76,36.76 L639.81,38.06 L640.83,39.40 L641.83,40.77 L642.80,42.18 L643.74,43.61 L644.65,45.08 L645.52,46.57 L646.36,48.08 L647.16,49.62 L647.93,51.17 L648.66,52.75 L649.35,54.33 L650.00,55.93 L650.60,57.53 L651.17,59.14 L651.69,60.76 L652.17,62.37 L652.60,63.99 L652.98,65.60 L653.32,67.20 L653.62,68.80 L653.86,70.38 L654.06,71.95 L654.21,73.50 L654.31,75.04 L654.37,76.55 L654.37,78.04 L654.33,79.50 L654.23,80.94 L654.09,82.34 L653.91,83.71 L653.67,85.05 L653.39,86.35 L653.06,87.60 L652.68,88.82 L652.26,90.00 L651.79,91.13 L651.28,92.21 L650.72,93.24 L650.12,94.23 L649.48,95.16 L648.80,96.04 L648.08,96.86 L647.32,97.63 L646.52,98.34 L645.69,99.00 L644.82,99.59 L643.92,100.12 L589.22,128.99 L590.21,128.41 L591.16,127.77 L592.08,127.08 L592.97,126.33 L593.81,125.52 L594.62,124.66 L595.38,123.74 L596.11,122.78 L596.79,121.77 L597.42,120.70 L598.01,119.60 L598.56,118.44 L599.06,117.25 L599.51,116.01 L599.92,114.74 L600.27,113.43 L600.57,112.08 L600.83,110.70 L601.03,109.29 L601.19,107.86 L601.29,106.39 L601.34,104.91 L601.35,103.40 L601.30,101.87 L601.19,100.33 L601.04,98.77 L600.84,97.21 L600.59,95.63 L600.28,94.04 L599.93,92.46 L599.53,90.87 L599.08,89.28 L598.58,87.69 L598.04,86.12 L597.45,84.55 L596.81,82.99 L596.14,81.44 L595.41,79.91 L594.65,78.40 L593.85,76.91 L593.00,75.44 L592.12,74.00 L591.20,72.58 L590.25,71.20 L589.26,69.84 L588.24,68.53 L587.20,67.24 L586.12,66.00 L585.01,64.80 L583.88,63.64 L582.73,62.52 L581.55,61.45 L580.36,60.42 L579.14,59.45 L577.92,58.52 L576.67,57.65 L575.42,56.83 L574.15,56.07 L572.88,55.36 L571.60,54.71 L570.31,54.12 L569.03,53.59 L567.74,53.11 L566.46,52.70 L565.18,52.35 L563.90,52.06 L562.64,51.83 L561.38,51.67 L560.14,51.57 L558.91,51.53 L557.69,51.56 L556.50,51.64 L555.32,51.80 L554.17,52.01 L553.03,52.29 L551.93,52.62 L550.85,53.02 L549.80,53.49 L548.78,54.01 Z" fill="url(#gMotAx)" stroke="none"/>
<ellipse cx="648.5" cy="50.5" rx="1.6" ry="2.4" transform="rotate(-30 648.5 50.5)" fill="#4a4744" stroke="#2e2c2a" stroke-width="0.5"/>
<path d="M544.58,53.90 L545.64,53.32 L546.72,52.79 L547.84,52.34 L548.99,51.94 L550.16,51.61 L551.36,51.35 L552.59,51.15 L553.84,51.02 L555.10,50.95 L556.39,50.96 L557.69,51.02 L559.00,51.16 L560.32,51.35 L561.66,51.62 L563.00,51.95 L564.35,52.34 L565.70,52.80 L567.05,53.33 L568.40,53.91 L569.75,54.56 L571.09,55.27 L572.43,56.03 L573.75,56.86 L575.07,57.74 L576.37,58.68 L577.65,59.67 L578.92,60.71 L580.17,61.81 L581.39,62.95 L582.59,64.14 L583.77,65.38 L584.92,66.66 L586.04,67.98 L587.12,69.35 L588.18,70.74 L589.20,72.18 L590.19,73.65 L591.13,75.14 L592.04,76.67 L592.91,78.22 L593.73,79.79 L594.52,81.39 L595.25,83.00 L595.95,84.63 L596.59,86.27 L597.19,87.92 L597.74,89.58 L598.24,91.25 L598.69,92.92 L599.09,94.58 L599.43,96.25 L599.73,97.91 L599.97,99.56 L600.16,101.20 L600.29,102.83 L600.37,104.44 L600.40,106.04 L600.38,107.61 L600.30,109.16 L600.16,110.69 L599.98,112.18 L599.74,113.65 L599.44,115.08 L599.10,116.48 L598.70,117.84 L598.26,119.16 L597.76,120.44 L597.21,121.68 L596.61,122.87 L595.97,124.01 L595.28,125.11 L594.54,126.15 L593.76,127.14 L592.94,128.08 L592.07,128.96 L591.17,129.78 L590.22,130.55 L589.24,131.26 L588.22,131.90 L553.61,153.49 L554.55,152.90 L555.44,152.24 L556.29,151.52 L557.11,150.75 L557.88,149.92 L558.60,149.03 L559.29,148.09 L559.92,147.09 L560.51,146.04 L561.06,144.94 L561.55,143.79 L561.99,142.60 L562.39,141.36 L562.73,140.08 L563.02,138.76 L563.26,137.40 L563.45,136.00 L563.58,134.57 L563.67,133.10 L563.70,131.61 L563.67,130.09 L563.60,128.54 L563.47,126.98 L563.29,125.39 L563.06,123.78 L562.77,122.16 L562.44,120.53 L562.05,118.88 L561.61,117.23 L561.13,115.58 L560.59,113.92 L560.01,112.27 L559.38,110.61 L558.70,108.96 L557.98,107.33 L557.22,105.70 L556.41,104.08 L555.56,102.49 L554.67,100.91 L553.75,99.35 L552.78,97.81 L551.78,96.30 L550.75,94.82 L549.68,93.37 L548.59,91.96 L547.46,90.58 L546.31,89.23 L545.13,87.93 L543.93,86.67 L542.71,85.45 L541.46,84.28 L540.20,83.15 L538.93,82.08 L537.64,81.05 L536.34,80.08 L535.03,79.16 L533.71,78.30 L532.38,77.49 L531.06,76.74 L529.73,76.05 L528.40,75.43 L527.08,74.86 L525.76,74.36 L524.45,73.91 L523.14,73.54 L521.85,73.22 L520.57,72.98 L519.31,72.79 L518.07,72.68 L516.84,72.63 L515.64,72.64 L514.46,72.72 L513.30,72.87 L512.17,73.08 L511.07,73.36 L510.00,73.70 L508.96,74.11 L507.96,74.58 L506.99,75.11 Z" fill="url(#gGear)" stroke="#333" stroke-width="0.8"/>
<path d="M544.58,53.90 L545.64,53.32 L546.72,52.79 L547.84,52.34 L548.99,51.94 L550.16,51.61 L551.36,51.35 L552.59,51.15 L553.84,51.02 L555.10,50.95 L556.39,50.96 L557.69,51.02 L559.00,51.16 L560.32,51.35 L561.66,51.62 L563.00,51.95 L564.35,52.34 L565.70,52.80 L567.05,53.33 L568.40,53.91 L569.75,54.56 L571.09,55.27 L572.43,56.03 L573.75,56.86 L575.07,57.74 L576.37,58.68 L577.65,59.67 L578.92,60.71 L580.17,61.81 L581.39,62.95 L582.59,64.14 L583.77,65.38 L584.92,66.66 L586.04,67.98 L587.12,69.35 L588.18,70.74 L589.20,72.18 L590.19,73.65 L591.13,75.14 L592.04,76.67 L592.91,78.22 L593.73,79.79 L594.52,81.39 L595.25,83.00 L595.95,84.63 L596.59,86.27 L597.19,87.92 L597.74,89.58 L598.24,91.25 L598.69,92.92 L599.09,94.58 L599.43,96.25 L599.73,97.91 L599.97,99.56 L600.16,101.20 L600.29,102.83 L600.37,104.44 L600.40,106.04 L600.38,107.61 L600.30,109.16 L600.16,110.69 L599.98,112.18 L599.74,113.65 L599.44,115.08 L599.10,116.48 L598.70,117.84 L598.26,119.16 L597.76,120.44 L597.21,121.68 L596.61,122.87 L595.97,124.01 L595.28,125.11 L594.54,126.15 L593.76,127.14 L592.94,128.08 L592.07,128.96 L591.17,129.78 L590.22,130.55 L589.24,131.26 L588.22,131.90" fill="none" stroke="#2a2a2a" stroke-width="1.1"/>
<path d="M553.65,153.47 L552.36,154.17 L551.00,154.75 L549.59,155.22 L548.12,155.58 L546.61,155.83 L545.05,155.95 L543.45,155.97 L541.81,155.86 L540.14,155.64 L538.44,155.31 L536.72,154.86 L534.98,154.29 L533.23,153.62 L531.47,152.84 L529.70,151.94 L527.94,150.95 L526.19,149.85 L524.45,148.65 L522.72,147.36 L521.01,145.97 L519.33,144.50 L517.68,142.94 L516.07,141.31 L514.49,139.59 L512.96,137.81 L511.48,135.96 L510.05,134.05 L508.68,132.09 L507.36,130.07 L506.11,128.02 L504.93,125.92 L503.82,123.79 L502.78,121.64 L501.82,119.46 L500.94,117.27 L500.14,115.07 L499.43,112.87 L498.80,110.68 L498.26,108.49 L497.80,106.32 L497.44,104.17 L497.17,102.06 L497.00,99.97 L496.91,97.92 L496.92,95.92 L497.02,93.98 L497.21,92.08 L497.50,90.25 L497.88,88.49 L498.35,86.80 L498.90,85.19 L499.55,83.65 L500.28,82.21 L501.09,80.85 L501.99,79.58 L502.96,78.41 L504.01,77.35 L505.13,76.38 L506.33,75.52 L507.59,74.77 L508.91,74.13 L510.30,73.60 L511.74,73.18 L513.23,72.88 L514.77,72.70 L516.35,72.63 L517.97,72.67 L519.62,72.83 L521.31,73.11 L523.02,73.50 L524.75,74.01 L526.49,74.63 L528.25,75.36 L530.01,76.20 L531.78,77.14 L533.54,78.19 L535.28,79.34 L537.02,80.58 L538.74,81.92 L540.43,83.35 L542.10,84.87 L543.73,86.47 L545.32,88.14 L546.88,89.89 L548.38,91.71 L549.84,93.59 L551.24,95.52 L552.59,97.51 L553.87,99.55 L555.08,101.63 L556.23,103.74 L557.31,105.88 L558.31,108.05 L559.23,110.23 L560.07,112.43 L560.83,114.63 L561.50,116.82 L562.08,119.02 L562.58,121.20 L562.99,123.35 L563.30,125.49 L563.53,127.59 L563.66,129.66 L563.70,131.68 L563.64,133.66 L563.49,135.58 L563.25,137.44 L562.92,139.24 L562.50,140.96 L561.99,142.62 L561.39,144.19 L560.70,145.68 L559.93,147.08 L559.07,148.40 L558.14,149.61 L557.12,150.73 L556.04,151.75 L554.88,152.66 L553.65,153.47 Z" fill="#9a9a9a" stroke="#2a2a2a" stroke-width="0.9"/>
<path d="M553.80,151.11 L552.56,151.77 L551.27,152.33 L549.92,152.78 L548.52,153.12 L547.08,153.36 L545.58,153.48 L544.05,153.49 L542.49,153.39 L540.89,153.18 L539.27,152.86 L537.63,152.43 L535.97,151.89 L534.30,151.25 L532.62,150.50 L530.93,149.65 L529.25,148.70 L527.57,147.65 L525.91,146.51 L524.26,145.27 L522.63,143.95 L521.03,142.54 L519.45,141.05 L517.91,139.49 L516.40,137.86 L514.94,136.15 L513.53,134.39 L512.16,132.56 L510.85,130.69 L509.60,128.76 L508.40,126.80 L507.27,124.80 L506.21,122.77 L505.22,120.71 L504.31,118.63 L503.46,116.54 L502.70,114.44 L502.02,112.34 L501.42,110.24 L500.90,108.15 L500.47,106.08 L500.12,104.03 L499.86,102.01 L499.69,100.01 L499.61,98.06 L499.62,96.15 L499.72,94.29 L499.90,92.48 L500.18,90.74 L500.54,89.05 L500.98,87.44 L501.52,85.90 L502.13,84.43 L502.83,83.05 L503.61,81.75 L504.46,80.54 L505.39,79.43 L506.39,78.41 L507.47,77.49 L508.61,76.67 L509.81,75.95 L511.08,75.34 L512.40,74.83 L513.77,74.43 L515.20,74.15 L516.66,73.97 L518.18,73.90 L519.72,73.95 L521.30,74.10 L522.91,74.37 L524.55,74.74 L526.20,75.22 L527.87,75.81 L529.54,76.51 L531.23,77.31 L532.91,78.21 L534.59,79.21 L536.26,80.31 L537.92,81.50 L539.56,82.78 L541.18,84.14 L542.77,85.59 L544.33,87.12 L545.85,88.72 L547.33,90.39 L548.77,92.12 L550.16,93.92 L551.50,95.77 L552.78,97.67 L554.01,99.61 L555.17,101.60 L556.26,103.62 L557.29,105.66 L558.25,107.73 L559.13,109.81 L559.93,111.91 L560.65,114.01 L561.29,116.11 L561.85,118.20 L562.33,120.28 L562.72,122.35 L563.02,124.39 L563.23,126.39 L563.36,128.37 L563.39,130.30 L563.34,132.18 L563.20,134.02 L562.97,135.80 L562.65,137.51 L562.25,139.16 L561.76,140.74 L561.19,142.25 L560.53,143.67 L559.79,145.01 L558.98,146.26 L558.08,147.43 L557.12,148.49 L556.08,149.46 L554.97,150.34 L553.80,151.11 Z" fill="url(#gFace)" stroke="#555" stroke-width="0.5"/>
<path d="M561.77,133.74 L561.69,134.48 L561.42,135.06 L560.98,135.43 L560.41,135.57 L559.75,135.46 L559.05,135.11 L558.36,134.55 L557.73,133.82 L557.21,132.98 L556.84,132.08 L556.64,131.20 L556.63,130.39 L556.81,129.73 L557.17,129.25 L557.67,128.99 L558.29,128.98 L558.98,129.21 L559.68,129.67 L560.34,130.32 L560.92,131.11 L561.38,131.99 L561.66,132.89 L561.77,133.74 Z" fill="#5a5a5a" stroke="#333" stroke-width="0.5"/>
<path d="M547.36,97.83 L547.28,98.57 L547.01,99.15 L546.57,99.52 L546.00,99.65 L545.34,99.54 L544.64,99.19 L543.95,98.64 L543.33,97.91 L542.80,97.06 L542.43,96.17 L542.23,95.28 L542.22,94.48 L542.40,93.81 L542.76,93.34 L543.26,93.08 L543.88,93.07 L544.57,93.30 L545.27,93.75 L545.93,94.40 L546.51,95.20 L546.97,96.08 L547.26,96.97 L547.36,97.83 Z" fill="#5a5a5a" stroke="#333" stroke-width="0.5"/>
<path d="M519.27,81.72 L519.19,82.47 L518.91,83.04 L518.48,83.41 L517.91,83.55 L517.25,83.44 L516.55,83.09 L515.86,82.53 L515.23,81.81 L514.71,80.96 L514.34,80.07 L514.14,79.18 L514.13,78.38 L514.31,77.71 L514.67,77.23 L515.17,76.98 L515.79,76.97 L516.48,77.20 L517.18,77.65 L517.84,78.30 L518.42,79.10 L518.87,79.97 L519.16,80.87 L519.27,81.72 Z" fill="#5a5a5a" stroke="#333" stroke-width="0.5"/>
<path d="M505.59,101.54 L505.50,102.28 L505.23,102.86 L504.80,103.23 L504.23,103.36 L503.57,103.25 L502.87,102.91 L502.18,102.35 L501.55,101.62 L501.03,100.78 L500.66,99.88 L500.46,99.00 L500.45,98.19 L500.63,97.53 L500.98,97.05 L501.49,96.79 L502.11,96.78 L502.79,97.01 L503.50,97.47 L504.16,98.12 L504.74,98.91 L505.19,99.79 L505.48,100.69 L505.59,101.54 Z" fill="#5a5a5a" stroke="#333" stroke-width="0.5"/>
<path d="M520.00,137.45 L519.91,138.19 L519.64,138.77 L519.21,139.14 L518.64,139.28 L517.98,139.17 L517.28,138.82 L516.59,138.26 L515.96,137.53 L515.44,136.69 L515.07,135.79 L514.87,134.91 L514.86,134.11 L515.04,133.44 L515.39,132.96 L515.90,132.71 L516.52,132.69 L517.20,132.92 L517.91,133.38 L518.57,134.03 L519.15,134.82 L519.60,135.70 L519.89,136.60 L520.00,137.45 Z" fill="#5a5a5a" stroke="#333" stroke-width="0.5"/>
<path d="M548.09,153.55 L548.00,154.30 L547.73,154.87 L547.30,155.24 L546.73,155.38 L546.07,155.27 L545.37,154.92 L544.68,154.36 L544.05,153.64 L543.53,152.79 L543.16,151.90 L542.96,151.01 L542.95,150.21 L543.13,149.54 L543.48,149.06 L543.99,148.81 L544.61,148.79 L545.29,149.03 L546.00,149.48 L546.66,150.13 L547.24,150.92 L547.69,151.80 L547.98,152.70 L548.09,153.55 Z" fill="#5a5a5a" stroke="#333" stroke-width="0.5"/>
<path d="M534.27,86.37 L534.15,87.40 L533.77,88.20 L533.17,88.72 L532.38,88.90 L531.47,88.75 L530.49,88.27 L529.53,87.49 L528.66,86.48 L527.94,85.31 L527.42,84.07 L527.14,82.84 L527.13,81.72 L527.38,80.80 L527.87,80.13 L528.57,79.78 L529.43,79.76 L530.39,80.08 L531.36,80.71 L532.28,81.62 L533.09,82.72 L533.72,83.94 L534.12,85.18 L534.27,86.37 Z" fill="#6a6a6a" stroke="#333" stroke-width="0.6"/>
<path d="M532.83,85.55 L532.76,86.16 L532.54,86.65 L532.17,86.95 L531.70,87.07 L531.15,86.98 L530.57,86.69 L529.99,86.22 L529.47,85.62 L529.04,84.91 L528.73,84.16 L528.56,83.43 L528.55,82.76 L528.70,82.20 L529.00,81.80 L529.42,81.59 L529.93,81.58 L530.51,81.77 L531.09,82.15 L531.64,82.69 L532.13,83.36 L532.50,84.09 L532.75,84.84 L532.83,85.55 Z" fill="#9a9a9a" stroke="none"/>
<path d="M510.81,120.33 L510.69,121.37 L510.32,122.17 L509.71,122.68 L508.92,122.87 L508.01,122.72 L507.04,122.24 L506.08,121.46 L505.21,120.45 L504.48,119.28 L503.96,118.03 L503.69,116.81 L503.67,115.69 L503.92,114.76 L504.42,114.10 L505.12,113.74 L505.98,113.73 L506.93,114.05 L507.91,114.68 L508.83,115.58 L509.64,116.68 L510.26,117.90 L510.66,119.15 L510.81,120.33 Z" fill="#6a6a6a" stroke="#333" stroke-width="0.6"/>
<path d="M509.38,119.51 L509.31,120.13 L509.08,120.61 L508.72,120.92 L508.25,121.03 L507.70,120.94 L507.11,120.65 L506.54,120.19 L506.02,119.58 L505.58,118.88 L505.27,118.13 L505.10,117.40 L505.09,116.73 L505.24,116.17 L505.54,115.77 L505.96,115.56 L506.48,115.55 L507.05,115.74 L507.63,116.12 L508.19,116.66 L508.67,117.32 L509.05,118.05 L509.29,118.80 L509.38,119.51 Z" fill="#9a9a9a" stroke="none"/>
<path d="M558.97,147.94 L558.85,148.97 L558.48,149.77 L557.87,150.29 L557.08,150.47 L556.17,150.32 L555.20,149.84 L554.24,149.06 L553.36,148.05 L552.64,146.88 L552.12,145.64 L551.84,144.41 L551.83,143.29 L552.08,142.37 L552.57,141.70 L553.28,141.35 L554.14,141.33 L555.09,141.65 L556.06,142.28 L556.99,143.19 L557.79,144.29 L558.42,145.51 L558.82,146.76 L558.97,147.94 Z" fill="#6a6a6a" stroke="#333" stroke-width="0.6"/>
<path d="M557.54,147.12 L557.47,147.74 L557.24,148.22 L556.88,148.53 L556.40,148.64 L555.86,148.55 L555.27,148.26 L554.70,147.79 L554.17,147.19 L553.74,146.48 L553.43,145.74 L553.26,145.00 L553.25,144.33 L553.40,143.77 L553.70,143.38 L554.12,143.16 L554.64,143.15 L555.21,143.34 L555.79,143.72 L556.35,144.27 L556.83,144.93 L557.21,145.66 L557.45,146.41 L557.54,147.12 Z" fill="#9a9a9a" stroke="none"/>
<path d="M515.24,124.71 L516.89,127.39 L518.68,129.96 L520.60,132.39 L522.62,134.67 L524.72,136.75 L526.89,138.63 L529.10,140.29 L531.33,141.71 L533.56,142.87 L535.76,143.77 L537.92,144.39 L540.01,144.73 L542.01,144.78 L543.90,144.55 L545.67,144.04 L547.29,143.25 L548.74,142.19 L550.03,140.86 L551.12,139.30 L552.01,137.50 L552.70,135.49 L553.17,133.29 L553.42,130.91 L553.44,128.39 L553.25,125.75 L552.83,123.01 L552.20,120.20 L551.36,117.36 L550.31,114.50 L549.08,111.66 L547.66,108.86 L546.08,106.13 L544.35,103.51 L542.49,101.01 L540.51,98.66 L538.44,96.49 L536.30,94.51 L534.11,92.75 L531.88,91.22 L529.65,89.94 L527.43,88.93 L525.25,88.18 L523.13,87.71 L521.08,87.53 L519.14,87.63 L517.32,88.01 L515.63,88.68 L514.10,89.62 L512.73,90.82 L511.55,92.28 L510.57,93.98 L509.79,95.89 L509.22,98.01 L508.87,100.31 L508.74,102.77 L508.83,105.36 L509.15,108.06 L509.69,110.84 L510.43,113.67 L511.39,116.52 L512.54,119.38 L513.88,122.20 L515.38,124.96 L517.05,127.63 L518.85,130.19 L520.78,132.61 L522.81,134.87 L524.92,136.94 L527.09,138.80 L529.31,140.43 L531.54,141.83 L533.76,142.97 L535.97,143.84 L538.12,144.43 L540.20,144.74 L542.19,144.77 L544.07,144.52 L545.82,143.98 L547.43,143.16 L548.49,140.79 L548.45,139.73 L548.37,138.64 L548.23,137.53 L548.05,136.41 L547.82,135.26 L547.54,134.11 L547.22,132.94 L546.85,131.77 L546.44,130.60 L545.98,129.43 L545.48,128.26 L544.94,127.10 L544.37,125.95 L543.76,124.82 L543.11,123.70 L542.42,122.60 L541.71,121.53 L540.97,120.48 L540.20,119.46 L539.40,118.48 L538.58,117.53 L537.74,116.62 L536.89,115.75 L536.01,114.92 L535.12,114.14 L534.23,113.40 L533.32,112.72 L532.41,112.08 L531.49,111.50 L530.58,110.98 L529.66,110.51 L528.76,110.10 L527.85,109.75 L526.96,109.46 L526.08,109.23 L525.22,109.06 L524.37,108.95 L523.54,108.91 L522.73,108.93 L521.95,109.01 L521.20,109.15 L520.47,109.35 L519.77,109.62 L519.11,109.94 L518.48,110.33 L517.89,110.77 L517.33,111.27 L516.82,111.83 L516.34,112.44 L515.91,113.10 L515.53,113.82 L515.18,114.58 L514.88,115.39 L514.63,116.24 L514.43,117.13 L514.27,118.07 L514.16,119.04 L514.11,120.04 L514.09,121.08 Z" fill="#bdbdbd" stroke="#333" stroke-width="1.9"/>
<path d="M515.24,124.71 L516.89,127.39 L518.68,129.96 L520.60,132.39 L522.62,134.67 L524.72,136.75 L526.89,138.63 L529.10,140.29 L531.33,141.71 L533.56,142.87 L535.76,143.77 L537.92,144.39 L540.01,144.73 L542.01,144.78 L543.90,144.55 L545.67,144.04 L547.29,143.25 L548.74,142.19 L550.03,140.86 L551.12,139.30 L552.01,137.50 L552.70,135.49 L553.17,133.29 L553.42,130.91 L553.44,128.39 L553.25,125.75 L552.83,123.01 L552.20,120.20 L551.36,117.36 L550.31,114.50 L549.08,111.66 L547.66,108.86 L546.08,106.13 L544.35,103.51 L542.49,101.01 L540.51,98.66 L538.44,96.49 L536.30,94.51 L534.11,92.75 L531.88,91.22 L529.65,89.94 L527.43,88.93 L525.25,88.18 L523.13,87.71 L521.08,87.53 L519.14,87.63 L517.32,88.01 L515.63,88.68 L514.10,89.62 L512.73,90.82 L511.55,92.28 L510.57,93.98 L509.79,95.89 L509.22,98.01 L508.87,100.31 L508.74,102.77 L508.83,105.36 L509.15,108.06 L509.69,110.84 L510.43,113.67 L511.39,116.52 L512.54,119.38 L513.88,122.20 L515.38,124.96 L517.05,127.63 L518.85,130.19 L520.78,132.61 L522.81,134.87 L524.92,136.94 L527.09,138.80 L529.31,140.43 L531.54,141.83 L533.76,142.97 L535.97,143.84 L538.12,144.43 L540.20,144.74 L542.19,144.77 L544.07,144.52 L545.82,143.98 L547.43,143.16 L548.49,140.79 L548.45,139.73 L548.37,138.64 L548.23,137.53 L548.05,136.41 L547.82,135.26 L547.54,134.11 L547.22,132.94 L546.85,131.77 L546.44,130.60 L545.98,129.43 L545.48,128.26 L544.94,127.10 L544.37,125.95 L543.76,124.82 L543.11,123.70 L542.42,122.60 L541.71,121.53 L540.97,120.48 L540.20,119.46 L539.40,118.48 L538.58,117.53 L537.74,116.62 L536.89,115.75 L536.01,114.92 L535.12,114.14 L534.23,113.40 L533.32,112.72 L532.41,112.08 L531.49,111.50 L530.58,110.98 L529.66,110.51 L528.76,110.10 L527.85,109.75 L526.96,109.46 L526.08,109.23 L525.22,109.06 L524.37,108.95 L523.54,108.91 L522.73,108.93 L521.95,109.01 L521.20,109.15 L520.47,109.35 L519.77,109.62 L519.11,109.94 L518.48,110.33 L517.89,110.77 L517.33,111.27 L516.82,111.83 L516.34,112.44 L515.91,113.10 L515.53,113.82 L515.18,114.58 L514.88,115.39 L514.63,116.24 L514.43,117.13 L514.27,118.07 L514.16,119.04 L514.11,120.04 L514.09,121.08 Z" fill="none" stroke="#b0b0b0" stroke-width="0.6"/>
<path d="M547.06,139.97 L547.02,139.00 L546.94,138.00 L546.82,136.98 L546.65,135.95 L546.44,134.90 L546.19,133.84 L545.89,132.77 L545.55,131.70 L545.17,130.63 L544.76,129.55 L544.30,128.48 L543.81,127.42 L543.28,126.37 L542.72,125.33 L542.12,124.30 L541.50,123.30 L540.84,122.31 L540.16,121.35 L539.46,120.42 L538.73,119.52 L537.98,118.65 L537.21,117.81 L536.42,117.01 L535.62,116.25 L534.81,115.54 L533.98,114.86 L533.15,114.24 L532.32,113.66 L531.48,113.12 L530.64,112.64 L529.80,112.21 L528.97,111.84 L528.14,111.52 L527.32,111.25 L526.52,111.04 L525.72,110.88 L524.95,110.78 L524.19,110.74 L523.45,110.76 L522.73,110.83 L522.04,110.96 L521.37,111.15 L520.73,111.39 L520.13,111.69 L519.55,112.05 L519.01,112.45 L518.50,112.91 L518.03,113.42 L517.59,113.98 L517.19,114.59 L516.84,115.24 L516.52,115.94 L516.25,116.68 L516.02,117.46 L515.83,118.28 L515.69,119.14 L515.59,120.03 L515.54,120.95 L515.53,121.90" fill="none" stroke="#fafafa" stroke-width="0.9"/>
<path d="M542.28,138.31 L542.21,138.93 L542.11,139.52 L541.99,140.09 L541.83,140.64 L541.64,141.15 L541.42,141.64 L541.18,142.10 L540.91,142.52 L540.61,142.91 L540.28,143.27 L539.93,143.59 L539.56,143.88 L539.16,144.13 L528.63,149.98 L528.21,150.19 L527.77,150.36 L527.31,150.50 L526.84,150.60 L526.34,150.65 L525.83,150.67 L525.31,150.65 L524.77,150.59 L524.22,150.49 L523.66,150.35 L523.10,150.17 L522.52,149.96 L521.95,149.71 L521.37,149.42 L520.78,149.09 L520.20,148.73 L519.62,148.34 L519.04,147.91 L518.47,147.45 L517.90,146.96 L517.34,146.45 L516.80,145.90 L516.26,145.33 L515.73,144.73 L515.22,144.11 L514.73,143.47 L514.25,142.81 L513.79,142.14 L513.34,141.44 L512.92,140.74 L512.52,140.02 L512.15,139.29 L511.80,138.55 L511.47,137.81 L511.17,137.07 L510.89,136.32 L510.65,135.58 L510.43,134.83 L510.24,134.10 L510.08,133.36 L509.95,132.64 L509.85,131.93 L509.78,131.23 L509.74,130.55 L509.73,129.88 L509.75,129.23 L509.80,128.60 L509.89,128.00 L510.00,127.41 L510.14,126.86 L510.32,126.33 L510.52,125.83 L510.75,125.35 L511.01,124.91 L511.30,124.51 L511.61,124.13 L511.95,123.79 L512.31,123.49 L512.69,123.22 L513.10,122.99 L523.63,117.14 L524.06,116.94 L524.51,116.79 L524.98,116.67 L525.46,116.60 L525.97,116.56 L526.48,116.56 L527.01,116.60 L527.56,116.68 L528.11,116.80 L528.67,116.96 L529.24,117.15 L529.82,117.39 L530.40,117.66 L530.98,117.97 L531.56,118.31 L532.14,118.69 L532.72,119.10 L533.30,119.54 L533.87,120.01 L534.43,120.52 L534.99,121.05 L535.53,121.61 L536.06,122.19 L536.58,122.80 L537.08,123.43 L537.57,124.08 L538.04,124.75 L538.49,125.43 L538.92,126.13 L539.33,126.85 L539.72,127.57 L540.09,128.30 L540.43,129.04 L540.74,129.78 L541.03,130.53 L541.29,131.28 L541.52,132.02 L541.72,132.76 L541.90,133.50 L542.05,134.22 L542.16,134.94 L542.25,135.65 L542.30,136.34 L542.33,137.01 L542.32,137.67 Z" fill="url(#gCol)" stroke="#2a2a2a" stroke-width="0.8"/>
<path d="M531.80,142.86 L531.79,143.52 L531.76,144.16 L531.69,144.78 L531.59,145.37 L531.46,145.94 L531.30,146.49 L531.11,147.00 L530.90,147.49 L530.65,147.95 L530.38,148.37 L530.08,148.76 L529.76,149.12 L529.41,149.44 L529.03,149.73 L528.63,149.98 L528.21,150.19 L527.77,150.36 L527.31,150.50 L526.84,150.60 L526.34,150.65 L525.83,150.67 L525.31,150.65 L524.77,150.59 L524.22,150.49 L523.66,150.35 L523.10,150.17 L522.52,149.96 L521.95,149.71 L521.37,149.42 L520.78,149.09 L520.20,148.73 L519.62,148.34 L519.04,147.91 L518.47,147.45 L517.90,146.96 L517.34,146.45 L516.80,145.90 L516.26,145.33 L515.73,144.73 L515.22,144.11 L514.73,143.47 L514.25,142.81 L513.79,142.14 L513.34,141.44 L512.92,140.74 L512.52,140.02 L512.15,139.29 L511.80,138.55 L511.47,137.81 L511.17,137.07 L510.89,136.32 L510.65,135.58 L510.43,134.83 L510.24,134.10 L510.08,133.36 L509.95,132.64 L509.85,131.93 L509.78,131.23 L509.74,130.55 L509.73,129.88 L509.75,129.23 L509.80,128.60 L509.89,128.00 L510.00,127.41 L510.14,126.86 L510.32,126.33 L510.52,125.83 L510.75,125.35 L511.01,124.91 L511.30,124.51 L511.61,124.13 L511.95,123.79 L512.31,123.49 L512.69,123.22 L513.10,122.99 L513.53,122.79 L513.98,122.64 L514.45,122.52 L514.94,122.45 L515.44,122.41 L515.96,122.41 L516.49,122.45 L517.03,122.53 L517.59,122.65 L518.15,122.81 L518.72,123.00 L519.29,123.24 L519.87,123.51 L520.45,123.82 L521.04,124.16 L521.62,124.54 L522.20,124.95 L522.77,125.39 L523.34,125.86 L523.91,126.37 L524.46,126.90 L525.00,127.46 L525.54,128.04 L526.05,128.65 L526.56,129.28 L527.05,129.93 L527.52,130.60 L527.97,131.28 L528.40,131.98 L528.81,132.70 L529.20,133.42 L529.56,134.15 L529.90,134.89 L530.21,135.63 L530.50,136.38 L530.76,137.13 L531.00,137.87 L531.20,138.61 L531.38,139.35 L531.52,140.07 L531.64,140.79 L531.72,141.50 L531.78,142.19 L531.80,142.86 Z" fill="#d6d6d6" stroke="#2a2a2a" stroke-width="0.8"/>
<path d="M488.75,146.11 L516.57,129.62 L516.78,129.50 L517.01,129.40 L517.24,129.32 L517.49,129.26 L517.74,129.22 L518.00,129.20 L518.27,129.20 L518.54,129.22 L518.83,129.26 L519.11,129.32 L519.41,129.40 L519.70,129.51 L520.00,129.63 L520.30,129.77 L520.60,129.93 L520.91,130.11 L521.21,130.30 L521.51,130.52 L521.81,130.75 L522.10,130.99 L522.40,131.25 L522.68,131.53 L522.97,131.82 L523.24,132.12 L523.51,132.44 L523.77,132.77 L524.03,133.11 L524.27,133.45 L524.51,133.81 L524.73,134.17 L524.94,134.54 L525.14,134.92 L525.33,135.30 L525.51,135.68 L525.67,136.07 L525.82,136.46 L525.96,136.84 L526.08,137.23 L526.19,137.61 L526.28,138.00 L526.35,138.37 L526.41,138.75 L526.46,139.11 L526.49,139.47 L526.50,139.82 L526.49,140.17 L526.47,140.50 L526.44,140.82 L526.39,141.13 L526.32,141.42 L526.24,141.71 L526.14,141.97 L526.03,142.23 L525.90,142.46 L525.76,142.68 L525.60,142.89 L525.44,143.07 L525.25,143.24 L525.06,143.39 L524.85,143.52 L497.03,160.02 L496.81,160.13 L496.58,160.22 L496.34,160.29 L496.09,160.34 L495.83,160.37 L495.57,160.38 L495.30,160.36 L495.02,160.33 L494.73,160.28 L494.44,160.21 L494.15,160.12 L493.85,160.01 L493.55,159.87 L493.25,159.72 L492.95,159.56 L492.65,159.37 L492.34,159.16 L492.04,158.94 L491.75,158.70 L491.45,158.45 L491.16,158.18 L490.88,157.90 L490.60,157.60 L490.32,157.29 L490.06,156.97 L489.80,156.64 L489.55,156.29 L489.31,155.94 L489.08,155.58 L488.86,155.21 L488.66,154.84 L488.46,154.46 L488.28,154.08 L488.11,153.70 L487.95,153.31 L487.81,152.92 L487.68,152.53 L487.57,152.15 L487.47,151.77 L487.39,151.39 L487.32,151.01 L487.27,150.64 L487.23,150.28 L487.21,149.92 L487.20,149.58 L487.22,149.24 L487.24,148.91 L487.29,148.60 L487.35,148.29 L487.42,148.00 L487.51,147.73 L487.62,147.47 L487.74,147.22 L487.87,147.00 L488.02,146.78 L488.18,146.59 L488.36,146.41 L488.54,146.25 Z" fill="url(#gShaft)" stroke="#2a2826" stroke-width="0.8"/>
<path d="M498.67,156.32 L498.67,156.66 L498.65,156.99 L498.61,157.31 L498.56,157.62 L498.49,157.92 L498.41,158.20 L498.31,158.47 L498.20,158.72 L498.07,158.96 L497.93,159.18 L497.78,159.38 L497.61,159.57 L497.43,159.74 L497.23,159.89 L497.03,160.02 L496.81,160.13 L496.58,160.22 L496.34,160.29 L496.09,160.34 L495.83,160.37 L495.57,160.38 L495.30,160.36 L495.02,160.33 L494.73,160.28 L494.44,160.21 L494.15,160.12 L493.85,160.01 L493.55,159.87 L493.25,159.72 L492.95,159.56 L492.65,159.37 L492.34,159.16 L492.04,158.94 L491.75,158.70 L491.45,158.45 L491.16,158.18 L490.88,157.90 L490.60,157.60 L490.32,157.29 L490.06,156.97 L489.80,156.64 L489.55,156.29 L489.31,155.94 L489.08,155.58 L488.86,155.21 L488.66,154.84 L488.46,154.46 L488.28,154.08 L488.11,153.70 L487.95,153.31 L487.81,152.92 L487.68,152.53 L487.57,152.15 L487.47,151.77 L487.39,151.39 L487.32,151.01 L487.27,150.64 L487.23,150.28 L487.21,149.92 L487.20,149.58 L487.22,149.24 L487.24,148.91 L487.29,148.60 L487.35,148.29 L487.42,148.00 L487.51,147.73 L487.62,147.47 L487.74,147.22 L487.87,147.00 L488.02,146.78 L488.18,146.59 L488.36,146.41 L488.54,146.25 L488.75,146.11 L488.96,145.99 L489.18,145.89 L489.41,145.81 L489.66,145.75 L489.91,145.71 L490.17,145.69 L490.44,145.69 L490.72,145.72 L491.00,145.76 L491.29,145.82 L491.58,145.90 L491.87,146.00 L492.17,146.12 L492.47,146.26 L492.78,146.42 L493.08,146.60 L493.38,146.80 L493.68,147.01 L493.98,147.24 L494.28,147.49 L494.57,147.75 L494.86,148.03 L495.14,148.32 L495.42,148.62 L495.69,148.94 L495.95,149.26 L496.20,149.60 L496.44,149.95 L496.68,150.30 L496.90,150.67 L497.12,151.04 L497.32,151.41 L497.51,151.79 L497.68,152.18 L497.85,152.56 L498.00,152.95 L498.13,153.34 L498.25,153.73 L498.36,154.11 L498.45,154.49 L498.53,154.87 L498.59,155.24 L498.63,155.61 L498.66,155.97 L498.67,156.32 Z" fill="#6f6b67" stroke="#2a2826" stroke-width="0.8"/>
<text x="18.8" y="494.3" font-size="14" fill="#24244c" textLength="95.3" lengthAdjust="spacingAndGlyphs">www.pololu.com</text>
</svg></body></html>
